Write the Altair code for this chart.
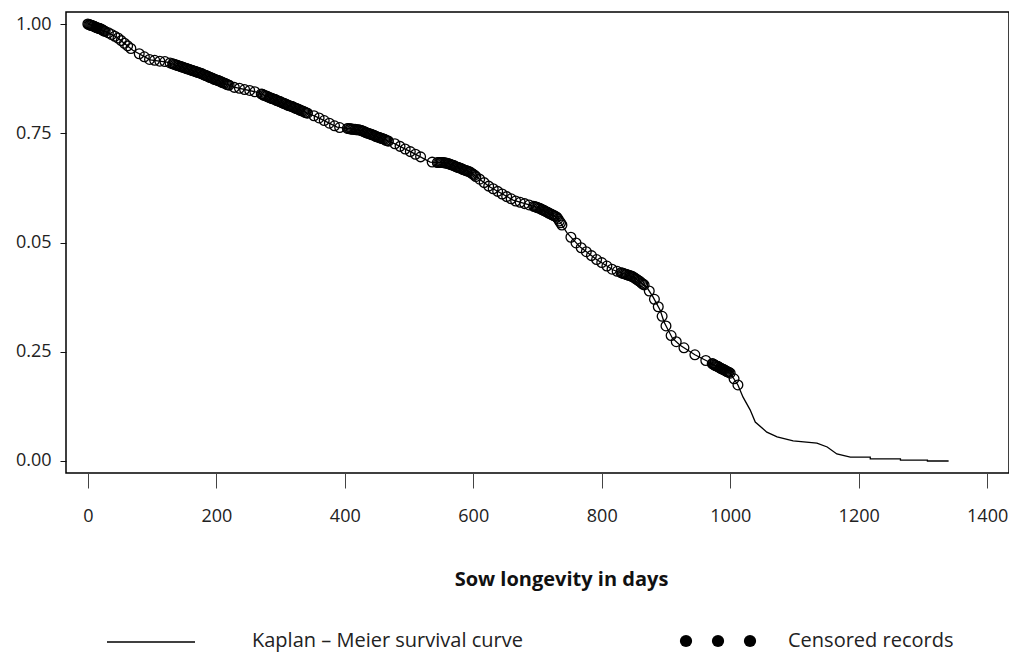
import altair as alt
import pandas as pd

# Kaplan-Meier curve (day, survival)
curve_days = [0, 19, 45, 70, 97, 123, 174, 226, 263, 304, 357, 388, 424, 475, 506, 533,
              559, 595, 626, 662, 699, 730, 746, 766, 793, 818, 849, 870, 880, 891, 897,
              910, 922, 945, 973, 1000, 1012, 1020, 1031, 1039, 1057, 1073, 1098, 1135,
              1151, 1166, 1187, 1218, 1218, 1265, 1265, 1307, 1307, 1340]
curve_surv = [1.000, 0.989, 0.970, 0.940, 0.918, 0.913, 0.888, 0.856, 0.844, 0.819, 0.787,
              0.764, 0.757, 0.728, 0.705, 0.684, 0.682, 0.661, 0.627, 0.597, 0.581, 0.558,
              0.522, 0.490, 0.460, 0.437, 0.421, 0.398, 0.375, 0.345, 0.318, 0.281, 0.265,
              0.243, 0.222, 0.201, 0.174, 0.146, 0.117, 0.089, 0.066, 0.055, 0.046, 0.041,
              0.032, 0.016, 0.009, 0.009, 0.005, 0.005, 0.002, 0.002, 0.000, 0.000]

# Censored records (open circles)
censored_days = [0, 3, 6, 9, 12, 15, 18, 21, 24, 27,
                 32, 37, 42, 47, 52, 57, 62, 67,
                 80, 88, 96, 104, 112, 120, 128,
                 132, 136, 140, 144, 148, 152, 156, 160, 164, 168, 172, 176, 180, 184, 188,
                 192, 196, 200, 204, 208, 212, 216, 220,
                 228, 236, 244, 252, 260,
                 270, 274, 278, 282, 286, 290, 294, 298, 302, 306, 310, 314, 318, 322, 326,
                 330, 334, 338, 342,
                 352, 360, 368, 376, 384, 392,
                 404, 408, 412, 416, 420, 424, 428, 432, 436, 440, 444, 448, 452, 456, 460,
                 464, 468,
                 478, 486, 494, 502, 510, 518, 536,
                 544, 548, 552, 556, 560, 564, 568, 572, 576, 580, 584, 588, 592, 596, 600, 604,
                 610, 617, 624, 631, 638, 645, 652, 659, 666, 673, 680, 687,
                 694, 698, 702, 706, 710, 714, 718, 722, 726, 730, 734, 738,
                 752, 760, 768, 776, 784, 792, 800, 808, 816, 824,
                 830, 834, 838, 842, 846, 850, 854, 858, 862, 866,
                 874, 882, 888, 894, 900, 908, 916, 928, 945, 962,
                 972, 975, 978, 981, 984, 987, 990, 993, 996, 1000,
                 1006, 1012]
censored_surv = [1.000, 0.998, 0.997, 0.995, 0.993, 0.991, 0.990, 0.988, 0.985, 0.983,
                 0.980, 0.976, 0.972, 0.968, 0.962, 0.956, 0.950, 0.944,
                 0.932, 0.925, 0.919, 0.917, 0.915, 0.914, 0.911,
                 0.909, 0.907, 0.905, 0.903, 0.901, 0.899, 0.897, 0.895, 0.893, 0.891, 0.889,
                 0.887, 0.884, 0.882, 0.879, 0.877, 0.874, 0.872, 0.870, 0.867, 0.865, 0.862,
                 0.860,
                 0.855, 0.853, 0.850, 0.848, 0.845,
                 0.840, 0.837, 0.835, 0.832, 0.830, 0.828, 0.825, 0.823, 0.820, 0.818, 0.815,
                 0.813, 0.811, 0.808, 0.806, 0.803, 0.801, 0.798, 0.796,
                 0.790, 0.785, 0.779, 0.773, 0.767, 0.763,
                 0.761, 0.760, 0.759, 0.759, 0.758, 0.757, 0.755, 0.752, 0.750, 0.748, 0.746,
                 0.743, 0.741, 0.739, 0.737, 0.734, 0.732,
                 0.726, 0.720, 0.714, 0.708, 0.702, 0.696, 0.684,
                 0.683, 0.683, 0.683, 0.682, 0.681, 0.679, 0.677, 0.674, 0.672, 0.670, 0.667,
                 0.665, 0.663, 0.660, 0.656, 0.651,
                 0.645, 0.637, 0.629, 0.623, 0.617, 0.611, 0.605, 0.600, 0.595, 0.592, 0.589,
                 0.586,
                 0.583, 0.581, 0.579, 0.576, 0.573, 0.570, 0.567, 0.564, 0.561, 0.558, 0.549,
                 0.540,
                 0.512, 0.499, 0.488, 0.479, 0.470, 0.461, 0.454, 0.446, 0.439, 0.434,
                 0.431, 0.429, 0.427, 0.425, 0.423, 0.420, 0.416, 0.412, 0.407, 0.403,
                 0.389, 0.370, 0.353, 0.331, 0.309, 0.287, 0.273, 0.259, 0.243, 0.230,
                 0.223, 0.220, 0.218, 0.216, 0.213, 0.211, 0.209, 0.206, 0.204, 0.201,
                 0.188, 0.174]

# Additional censored records inside the densely packed (solid black) clusters
dense_days = [1.5, 4.5, 7.5, 10.5, 13.5, 16.5, 19.5, 22.5, 25.5,
              134, 138, 142, 146, 150, 154, 158, 162, 166, 170, 174, 178, 182, 186, 190, 194,
              198, 202, 206, 210, 214, 218,
              272, 276, 280, 284, 288, 292, 296, 300, 304, 308, 312, 316, 320, 324, 328, 332,
              336, 340,
              406, 410, 414, 418, 422, 426, 430, 434, 438, 442, 446, 450, 454, 458, 462, 466,
              546, 550, 554, 558, 562, 566, 570, 574, 578, 582, 586, 590, 594, 598, 602,
              696, 700, 704, 708, 712, 716, 720, 724, 728, 732, 736,
              832, 836, 840, 844, 848, 852, 856, 860, 864,
              973.5, 976.5, 979.5, 982.5, 985.5, 988.5, 991.5, 994.5, 998]
dense_surv = [0.999, 0.997, 0.996, 0.994, 0.992, 0.990, 0.989, 0.987, 0.984,
              0.908, 0.906, 0.904, 0.902, 0.900, 0.898, 0.896, 0.894, 0.892, 0.890, 0.888,
              0.886, 0.883, 0.881, 0.878, 0.876, 0.873, 0.871, 0.869, 0.866, 0.864, 0.861,
              0.839, 0.836, 0.834, 0.831, 0.829, 0.827, 0.824, 0.822, 0.819, 0.817, 0.814,
              0.812, 0.810, 0.807, 0.805, 0.802, 0.800, 0.797,
              0.761, 0.760, 0.759, 0.758, 0.758, 0.756, 0.754, 0.751, 0.749, 0.747, 0.745,
              0.742, 0.740, 0.738, 0.736, 0.733,
              0.683, 0.683, 0.683, 0.682, 0.680, 0.678, 0.676, 0.673, 0.671, 0.669, 0.666,
              0.664, 0.662, 0.658, 0.654,
              0.582, 0.580, 0.578, 0.575, 0.572, 0.569, 0.566, 0.563, 0.560, 0.554, 0.545,
              0.430, 0.428, 0.426, 0.424, 0.422, 0.418, 0.414, 0.410, 0.405,
              0.222, 0.219, 0.217, 0.215, 0.212, 0.210, 0.208, 0.205, 0.203]

x_ticks = [0, 200, 400, 600, 800, 1000, 1200, 1400]
y_ticks = [0.0, 0.25, 0.5, 0.75, 1.0]
x_title = "Sow longevity in days"
legend_line_label = "Kaplan – Meier survival curve"
legend_dot_label = "Censored records"

FONT = "Open Sans"

curve_df = pd.DataFrame({"day": curve_days, "surv": curve_surv, "order": range(len(curve_days))})
cens_df = pd.DataFrame({"day": censored_days + dense_days, "surv": censored_surv + dense_surv})

x_scale = alt.Scale(domain=[-34, 1434], nice=False, zero=False)
y_scale = alt.Scale(domain=[-0.0275, 1.0275], nice=False, zero=False)

x_axis = alt.Axis(values=x_ticks, format="d", domain=False, grid=False, tickSize=15,
                  tickColor="#444", tickWidth=1, labelPadding=19, labelFontSize=18,
                  labelFont=FONT, labelColor="#222", title=x_title, titleFont=FONT,
                  titleFontSize=20, titleFontWeight="bold", titleColor="#111",
                  titleX=495, titleY=106, titleBaseline="middle", titleAnchor="start",
                  titleAlign="center")
y_axis = alt.Axis(values=y_ticks, domain=False, grid=False, tickSize=6, tickColor="#111",
                  labelPadding=9, labelFontSize=18, labelFont=FONT, labelColor="#222",
                  labelExpr="datum.value == 0.5 ? '0.05' : format(datum.value, '.2f')",
                  title=None)

line = alt.Chart(curve_df).mark_line(color="black", strokeWidth=1.3).encode(
    x=alt.X("day:Q", scale=x_scale, axis=x_axis),
    y=alt.Y("surv:Q", scale=y_scale, axis=y_axis),
    order="order:Q",
)

points = alt.Chart(cens_df).mark_point(shape="circle", filled=False, color="black",
                                       strokeWidth=1.3, size=95, opacity=1).encode(
    x=alt.X("day:Q", scale=x_scale),
    y=alt.Y("surv:Q", scale=y_scale),
)

one = alt.Data(values=[{"k": 1}])
legend_y = 629

leg_line = alt.Chart(one).mark_rule(color="black", strokeWidth=1.3).encode(
    x=alt.value(41), x2=alt.value(129), y=alt.value(legend_y + 1))
leg_text1 = alt.Chart(one).mark_text(align="left", baseline="middle", fontSize=20,
                                     font=FONT, color="#222", text=legend_line_label).encode(
    x=alt.value(186), y=alt.value(legend_y))
dot_layers = [
    alt.Chart(one).mark_circle(color="black", size=150, opacity=1).encode(
        x=alt.value(px), y=alt.value(legend_y))
    for px in (620, 652, 684)
]
leg_text2 = alt.Chart(one).mark_text(align="left", baseline="middle", fontSize=20,
                                     font=FONT, color="#222", text=legend_dot_label).encode(
    x=alt.value(722), y=alt.value(legend_y))

chart = alt.layer(line, points, leg_line, leg_text1, *dot_layers, leg_text2).properties(
    width=943, height=461,
    padding={"left": 58, "top": 4, "right": 0, "bottom": 180},
    autosize=alt.AutoSizeParams(type="none"),
    background="white",
).configure_view(stroke="black", strokeWidth=1.5)

chart.save("out.html", embed_options={"renderer": "svg", "actions": False})
